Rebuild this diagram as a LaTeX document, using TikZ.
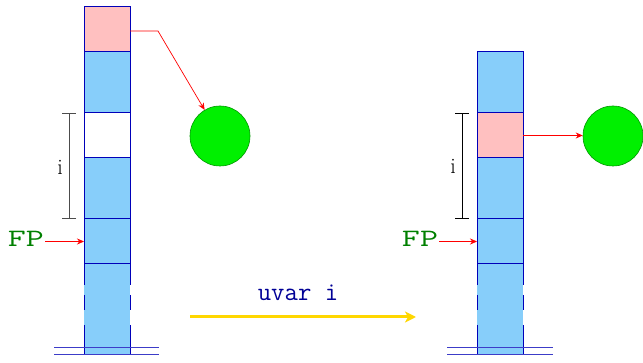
\documentclass[tikz,border=0pt]{standalone}
\usetikzlibrary{arrows.meta,calc}
\definecolor{cellblue}{RGB}{135,206,250}
\definecolor{cellpink}{RGB}{255,192,192}
\definecolor{edgeblue}{RGB}{0,0,185}
\definecolor{ballgreen}{RGB}{0,240,0}
\definecolor{balledge}{RGB}{0,150,0}
\definecolor{fpgreen}{RGB}{0,128,0}
\definecolor{labblue}{RGB}{0,0,150}
\definecolor{gold}{RGB}{255,215,0}
\definecolor{baseblue}{RGB}{60,60,200}
\begin{document}
\begin{tikzpicture}[x=1pt,y=-1pt,
  cell/.style={draw=edgeblue,line width=1pt,minimum width=46pt,inner sep=0pt,outer sep=0pt,anchor=north west},
  tallcell/.style={cell,minimum height=61pt},
  shortcell/.style={cell,minimum height=45pt},
  basecell/.style={fill=cellblue,minimum width=46pt,minimum height=91pt,inner sep=0pt,outer sep=0pt,anchor=north west},
  ball/.style={circle,fill=ballgreen,draw=balledge,line width=0.6pt,minimum size=60pt,inner sep=0pt},
  ptr/.style={red,line width=0.7pt,-{Stealth[length=7pt,width=6pt]}},
  fplab/.style={text=fpgreen,font=\fontsize{25}{28}\ttfamily,inner sep=1pt},
  ilab/.style={font=\fontsize{22}{26}\selectfont,inner sep=0pt},
  bracket/.style={line width=0.9pt,{Bar[width=14pt]}-{Bar[width=14pt]}},
  sidedash/.style={draw=edgeblue,line width=1pt,dash pattern=on 21pt off 10pt on 15pt off 15pt on 40pt off 0pt},
  base/.style={draw=baseblue,line width=1pt}]
\useasboundingbox (0,0) rectangle (643,363);
% left stack
\node[shortcell,fill=cellpink] (L1) at (84,7) {};
\node[tallcell,fill=cellblue] (L2) at (84,52) {};
\node[shortcell,fill=white] (L3) at (84,113) {};
\node[tallcell,fill=cellblue] (L4) at (84,158) {};
\node[shortcell,fill=cellblue] (L5) at (84,219) {};
\node[basecell] (L6) at (84,264) {};
\draw[draw=edgeblue,line width=1pt] (L6.north west) -- (L6.north east);
\draw[sidedash] (L6.north west) -- (L6.south west);
\draw[sidedash] (L6.north east) -- (L6.south east);
\coordinate (LB1) at (54,355);
\coordinate (LB2) at (159,355);
\draw[base] (LB1) -- (LB2);
\draw[base] ([yshift=7pt]LB1) -- ([yshift=7pt]LB2);
\node[ball] (C1) at (220,136) {};
\coordinate (K1) at (158,31);
\draw[ptr] (L1.east |- K1) -- (K1) -- (C1);
\draw[bracket,black!70] ([xshift=-15pt]L3.north west) -- ([xshift=-15pt]L4.south west);
\node[ilab] (I1) at (60,167) {i};
\node[fplab] (FP1) at (26,239) {\scalebox{1.4}[1]{FP}};
\draw[ptr] (FP1.east |- L5.west) -- (L5.west);
% right stack
\node[tallcell,fill=cellblue] (R1) at (477,52) {};
\node[shortcell,fill=cellpink] (R2) at (477,113) {};
\node[tallcell,fill=cellblue] (R3) at (477,158) {};
\node[shortcell,fill=cellblue] (R4) at (477,219) {};
\node[basecell] (R5) at (477,264) {};
\draw[draw=edgeblue,line width=1pt] (R5.north west) -- (R5.north east);
\draw[sidedash] (R5.north west) -- (R5.south west);
\draw[sidedash] (R5.north east) -- (R5.south east);
\coordinate (RB1) at (447,355);
\coordinate (RB2) at (553,355);
\draw[base] (RB1) -- (RB2);
\draw[base] ([yshift=7pt]RB1) -- ([yshift=7pt]RB2);
\node[ball] (C2) at (613,136) {};
\draw[ptr] (R2.east) -- (R2.east -| C2.west);
\draw[bracket,black] ([xshift=-15pt]R2.north west) -- ([xshift=-15pt]R3.south west);
\node[ilab] (I2) at (453,166) {i};
\node[fplab] (FP2) at (420,239) {\scalebox{1.4}[1]{FP}};
\draw[ptr] (FP2.east |- R4.west) -- (R4.west);
% transition
\coordinate (T1) at (190,317);
\coordinate (T2) at (416,317);
\draw[gold,line width=3pt,-{Stealth[length=11pt,width=11pt,inset=3pt]}] (T1) -- (T2);
\node[text=labblue,font=\fontsize{26}{30}\ttfamily,inner sep=0pt] (U) at (298,293) {uvar i};
\end{tikzpicture}
\end{document}
